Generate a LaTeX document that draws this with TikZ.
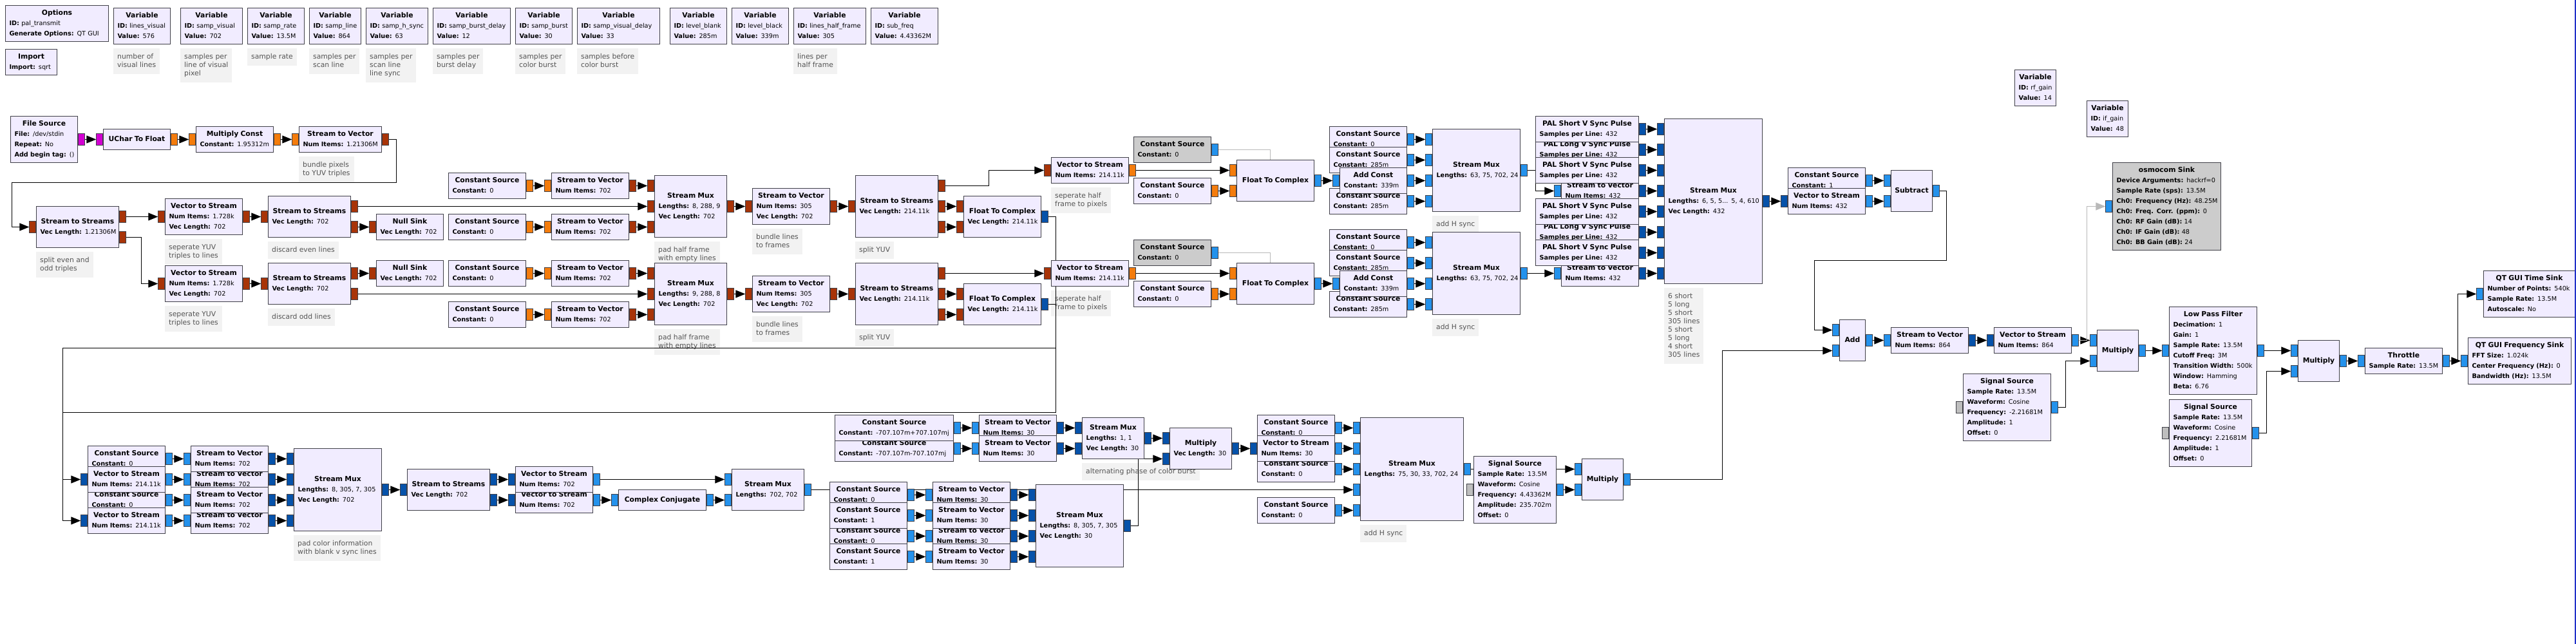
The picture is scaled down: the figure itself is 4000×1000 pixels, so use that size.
\documentclass[tikz,border=0pt]{standalone}
\usepackage{fontspec}
\setmainfont{DejaVu Sans}
\usetikzlibrary{arrows.meta}
\pgfdeclarelayer{background}
\pgfsetlayers{background,main}

\definecolor{blkfill}{RGB}{241,236,255}
\definecolor{offfill}{RGB}{204,204,204}
\definecolor{blkline}{RGB}{64,64,72}
\definecolor{pbyte}{RGB}{210,0,210}
\definecolor{pflt}{RGB}{244,124,12}
\definecolor{pfvec}{RGB}{168,52,8}
\definecolor{pcpx}{RGB}{36,146,236}
\definecolor{pcvec}{RGB}{6,82,170}
\definecolor{pmsg}{RGB}{190,190,190}
\definecolor{cmtfill}{RGB}{242,242,242}
\definecolor{cmttext}{RGB}{84,84,84}
\definecolor{offline}{RGB}{185,185,185}
\definecolor{edgeblue}{RGB}{32,48,200}

% block title and parameter lines
\newcommand{\btitle}[1]{\makebox[\hsize][c]{\fontsize{10.8}{16}\selectfont\bfseries #1}}
\newcommand{\bparam}[2]{\mbox{{\bfseries #1:} #2}}
% \grcblock[style]{name}{x,y}{width}{height}{text}
\newcommand{\grcblock}[6][]{%
	\pgfmathsetmacro{\btw}{#4-12}%
	\node[blk,#1,minimum width=#4pt,minimum height=#5pt,text width=\btw pt] (#2) at (#3) {\strut#6\strut};}
% ports: \inport{block}{count}{index}{colour}
\newcommand{\inport}[4]{%
	\pgfmathsetmacro{\pdy}{((#2-1)/2-#3)*32}%
	\node[port,fill=#4,anchor=east] (#1-i#3) at ([yshift=\pdy pt]#1.west) {};}
\newcommand{\outport}[4]{%
	\pgfmathsetmacro{\pdy}{((#2-1)/2-#3)*32}%
	\node[port,fill=#4,anchor=west] (#1-o#3) at ([yshift=\pdy pt]#1.east) {};}
% comment box: \grcnote{name}{x,y}{text}
\newcommand{\grcnote}[3]{\node[cmt] (#1) at (#2) {\strut#3\strut};}

\begin{document}
\begin{tikzpicture}[x=1pt,y=-1pt,
		blk/.style={draw=blkline,fill=blkfill,line width=1pt,anchor=north west,inner xsep=6pt,inner ysep=0pt,align=left,font=\fontsize{9.7}{16}\selectfont},
		blkoff/.style={fill=offfill},
		port/.style={draw=blkline,line width=0.7pt,minimum width=10pt,minimum height=18pt,inner sep=0pt},
		cmt/.style={fill=cmtfill,text=cmttext,anchor=north west,inner xsep=6pt,inner ysep=7pt,align=left,font=\fontsize{10.8}{13}\selectfont},
		conn/.style={line width=1pt,-{Triangle[length=15pt,width=12pt]}},
		connoff/.style={conn,draw=offline},
		offwire/.style={draw=offline,line width=1pt}]
	\useasboundingbox (0,0) rectangle (4000,1000);
	\begin{pgfonlayer}{background}
		\fill[white] (0,0) rectangle (4000,1000);
	\end{pgfonlayer}

	% options, import, variables
	\grcblock{opt}{8,8}{160}{56}{\btitle{Options}\\\bparam{ID}{pal\_transmit}\\\bparam{Generate Options}{QT GUI}}
	\grcblock{imp}{8,76}{80}{40}{\btitle{Import}\\\bparam{Import}{sqrt}}
	\grcblock{vlv}{176,12}{88}{56}{\btitle{Variable}\\\bparam{ID}{lines\_visual}\\\bparam{Value}{576}}
	\grcblock{vsv}{280,12}{96}{56}{\btitle{Variable}\\\bparam{ID}{samp\_visual}\\\bparam{Value}{702}}
	\grcblock{vsr}{384,12}{88}{56}{\btitle{Variable}\\\bparam{ID}{samp\_rate}\\\bparam{Value}{13.5M}}
	\grcblock{vsl}{480,12}{80}{56}{\btitle{Variable}\\\bparam{ID}{samp\_line}\\\bparam{Value}{864}}
	\grcblock{vhs}{568,12}{96}{56}{\btitle{Variable}\\\bparam{ID}{samp\_h\_sync}\\\bparam{Value}{63}}
	\grcblock{vbd}{672,12}{120}{56}{\btitle{Variable}\\\bparam{ID}{samp\_burst\_delay}\\\bparam{Value}{12}}
	\grcblock{vsb}{800,12}{88}{56}{\btitle{Variable}\\\bparam{ID}{samp\_burst}\\\bparam{Value}{30}}
	\grcblock{vvd}{896,12}{128}{56}{\btitle{Variable}\\\bparam{ID}{samp\_visual\_delay}\\\bparam{Value}{33}}
	\grcblock{vlb}{1040,12}{88}{56}{\btitle{Variable}\\\bparam{ID}{level\_blank}\\\bparam{Value}{285m}}
	\grcblock{vlk}{1136,12}{88}{56}{\btitle{Variable}\\\bparam{ID}{level\_black}\\\bparam{Value}{339m}}
	\grcblock{vhf}{1232,12}{112}{56}{\btitle{Variable}\\\bparam{ID}{lines\_half\_frame}\\\bparam{Value}{305}}
	\grcblock{vsf}{1352,12}{104}{56}{\btitle{Variable}\\\bparam{ID}{sub\_freq}\\\bparam{Value}{4.43362M}}
	\grcblock{vrf}{3128,108}{64}{56}{\btitle{Variable}\\\bparam{ID}{rf\_gain}\\\bparam{Value}{14}}
	\grcblock{vif}{3240,156}{64}{56}{\btitle{Variable}\\\bparam{ID}{if\_gain}\\\bparam{Value}{48}}

	% source chain
	\grcblock{fsrc}{16,180}{104}{72}{\btitle{File Source}\\\bparam{File}{/dev/stdin}\\\bparam{Repeat}{No}\\\bparam{Add begin tag}{()}}
	\outport{fsrc}{1}{0}{pbyte}
	\grcblock{u2f}{160,200}{104}{32}{\btitle{UChar To Float}}
	\inport{u2f}{1}{0}{pbyte} \outport{u2f}{1}{0}{pflt}
	\grcblock{mulk}{304,196}{120}{40}{\btitle{Multiply Const}\\\bparam{Constant}{1.95312m}}
	\inport{mulk}{1}{0}{pflt} \outport{mulk}{1}{0}{pflt}
	\grcblock{s2v0}{464,196}{128}{40}{\btitle{Stream to Vector}\\\bparam{Num Items}{1.21306M}}
	\inport{s2v0}{1}{0}{pflt} \outport{s2v0}{1}{0}{pfvec}

	% even / odd lines
	\grcblock{stsa}{56,320}{128}{64}{\btitle{Stream to Streams}\\\bparam{Vec Length}{1.21306M}}
	\inport{stsa}{1}{0}{pfvec} \outport{stsa}{2}{0}{pfvec} \outport{stsa}{2}{1}{pfvec}
	\grcblock{v2sa}{256,308}{120}{56}{\btitle{Vector to Stream}\\\bparam{Num Items}{1.728k}\\\bparam{Vec Length}{702}}
	\inport{v2sa}{1}{0}{pfvec} \outport{v2sa}{1}{0}{pfvec}
	\grcblock{v2sb}{256,412}{120}{56}{\btitle{Vector to Stream}\\\bparam{Num Items}{1.728k}\\\bparam{Vec Length}{702}}
	\inport{v2sb}{1}{0}{pfvec} \outport{v2sb}{1}{0}{pfvec}
	\grcblock{stsb}{416,304}{128}{64}{\btitle{Stream to Streams}\\\bparam{Vec Length}{702}}
	\inport{stsb}{1}{0}{pfvec} \outport{stsb}{2}{0}{pfvec} \outport{stsb}{2}{1}{pfvec}
	\grcblock{stsc}{416,408}{128}{64}{\btitle{Stream to Streams}\\\bparam{Vec Length}{702}}
	\inport{stsc}{1}{0}{pfvec} \outport{stsc}{2}{0}{pfvec} \outport{stsc}{2}{1}{pfvec}
	\grcblock{nulla}{584,332}{104}{40}{\btitle{Null Sink}\\\bparam{Vec Length}{702}}
	\inport{nulla}{1}{0}{pfvec}
	\grcblock{nullb}{584,404}{104}{40}{\btitle{Null Sink}\\\bparam{Vec Length}{702}}
	\inport{nullb}{1}{0}{pfvec}

	% pad half frames
	\grcblock{csa}{696,268}{120}{40}{\btitle{Constant Source}\\\bparam{Constant}{0}}
	\outport{csa}{1}{0}{pflt}
	\grcblock{s2va}{856,268}{120}{40}{\btitle{Stream to Vector}\\\bparam{Num Items}{702}}
	\inport{s2va}{1}{0}{pflt} \outport{s2va}{1}{0}{pfvec}
	\grcblock{csb}{696,332}{120}{40}{\btitle{Constant Source}\\\bparam{Constant}{0}}
	\outport{csb}{1}{0}{pflt}
	\grcblock{s2vb}{856,332}{120}{40}{\btitle{Stream to Vector}\\\bparam{Num Items}{702}}
	\inport{s2vb}{1}{0}{pflt} \outport{s2vb}{1}{0}{pfvec}
	\grcblock{csc}{696,404}{120}{40}{\btitle{Constant Source}\\\bparam{Constant}{0}}
	\outport{csc}{1}{0}{pflt}
	\grcblock{s2vc}{856,404}{120}{40}{\btitle{Stream to Vector}\\\bparam{Num Items}{702}}
	\inport{s2vc}{1}{0}{pflt} \outport{s2vc}{1}{0}{pfvec}
	\grcblock{csd}{696,468}{120}{40}{\btitle{Constant Source}\\\bparam{Constant}{0}}
	\outport{csd}{1}{0}{pflt}
	\grcblock{s2vd}{856,468}{120}{40}{\btitle{Stream to Vector}\\\bparam{Num Items}{702}}
	\inport{s2vd}{1}{0}{pflt} \outport{s2vd}{1}{0}{pfvec}
	\grcblock{muxa}{1016,272}{112}{96}{\btitle{Stream Mux}\\\bparam{Lengths}{8, 288, 9}\\\bparam{Vec Length}{702}}
	\inport{muxa}{3}{0}{pfvec} \inport{muxa}{3}{1}{pfvec} \inport{muxa}{3}{2}{pfvec} \outport{muxa}{1}{0}{pfvec}
	\grcblock{muxb}{1016,408}{112}{96}{\btitle{Stream Mux}\\\bparam{Lengths}{9, 288, 8}\\\bparam{Vec Length}{702}}
	\inport{muxb}{3}{0}{pfvec} \inport{muxb}{3}{1}{pfvec} \inport{muxb}{3}{2}{pfvec} \outport{muxb}{1}{0}{pfvec}
	\grcblock{s2ve}{1168,292}{120}{56}{\btitle{Stream to Vector}\\\bparam{Num Items}{305}\\\bparam{Vec Length}{702}}
	\inport{s2ve}{1}{0}{pfvec} \outport{s2ve}{1}{0}{pfvec}
	\grcblock{s2vf}{1168,428}{120}{56}{\btitle{Stream to Vector}\\\bparam{Num Items}{305}\\\bparam{Vec Length}{702}}
	\inport{s2vf}{1}{0}{pfvec} \outport{s2vf}{1}{0}{pfvec}

	% split YUV
	\grcblock{stsd}{1328,272}{128}{96}{\btitle{Stream to Streams}\\\bparam{Vec Length}{214.11k}}
	\inport{stsd}{1}{0}{pfvec} \outport{stsd}{3}{0}{pfvec} \outport{stsd}{3}{1}{pfvec} \outport{stsd}{3}{2}{pfvec}
	\grcblock{stse}{1328,408}{128}{96}{\btitle{Stream to Streams}\\\bparam{Vec Length}{214.11k}}
	\inport{stse}{1}{0}{pfvec} \outport{stse}{3}{0}{pfvec} \outport{stse}{3}{1}{pfvec} \outport{stse}{3}{2}{pfvec}
	\grcblock{f2ca}{1496,304}{120}{64}{\btitle{Float To Complex}\\\bparam{Vec Length}{214.11k}}
	\inport{f2ca}{2}{0}{pfvec} \inport{f2ca}{2}{1}{pfvec} \outport{f2ca}{1}{0}{pcvec}
	\grcblock{f2cb}{1496,440}{120}{64}{\btitle{Float To Complex}\\\bparam{Vec Length}{214.11k}}
	\inport{f2cb}{2}{0}{pfvec} \inport{f2cb}{2}{1}{pfvec} \outport{f2cb}{1}{0}{pcvec}
	\grcblock{v2sc}{1632,244}{120}{40}{\btitle{Vector to Stream}\\\bparam{Num Items}{214.11k}}
	\inport{v2sc}{1}{0}{pfvec} \outport{v2sc}{1}{0}{pflt}
	\grcblock{v2sd}{1632,404}{120}{40}{\btitle{Vector to Stream}\\\bparam{Num Items}{214.11k}}
	\inport{v2sd}{1}{0}{pfvec} \outport{v2sd}{1}{0}{pflt}
	\grcblock[blkoff]{cso1}{1760,212}{120}{40}{\btitle{Constant Source}\\\bparam{Constant}{0}}
	\outport{cso1}{1}{0}{pcpx}
	\grcblock{cse}{1760,276}{120}{40}{\btitle{Constant Source}\\\bparam{Constant}{0}}
	\outport{cse}{1}{0}{pflt}
	\grcblock[blkoff]{cso2}{1760,372}{120}{40}{\btitle{Constant Source}\\\bparam{Constant}{0}}
	\outport{cso2}{1}{0}{pcpx}
	\grcblock{csf}{1760,436}{120}{40}{\btitle{Constant Source}\\\bparam{Constant}{0}}
	\outport{csf}{1}{0}{pflt}
	\grcblock{f2cc}{1920,248}{120}{64}{\btitle{Float To Complex}}
	\inport{f2cc}{2}{0}{pflt} \inport{f2cc}{2}{1}{pflt} \outport{f2cc}{1}{0}{pcpx}
	\grcblock{f2cd}{1920,408}{120}{64}{\btitle{Float To Complex}}
	\inport{f2cd}{2}{0}{pflt} \inport{f2cd}{2}{1}{pflt} \outport{f2cd}{1}{0}{pcpx}

	% add H sync
	\grcblock{csg}{2064,196}{120}{40}{\btitle{Constant Source}\\\bparam{Constant}{0}}
	\outport{csg}{1}{0}{pcpx}
	\grcblock{csh}{2064,228}{120}{40}{\btitle{Constant Source}\\\bparam{Constant}{285m}}
	\outport{csh}{1}{0}{pcpx}
	\grcblock{csi}{2064,292}{120}{40}{\btitle{Constant Source}\\\bparam{Constant}{285m}}
	\outport{csi}{1}{0}{pcpx}
	\grcblock{adda}{2080,260}{104}{40}{\btitle{Add Const}\\\bparam{Constant}{339m}}
	\inport{adda}{1}{0}{pcpx} \outport{adda}{1}{0}{pcpx}
	\grcblock{muxc}{2224,200}{136}{128}{\btitle{Stream Mux}\\\bparam{Lengths}{63, 75, 702, 24}}
	\inport{muxc}{4}{0}{pcpx} \inport{muxc}{4}{1}{pcpx} \inport{muxc}{4}{2}{pcpx} \inport{muxc}{4}{3}{pcpx} \outport{muxc}{1}{0}{pcpx}
	\grcblock{csj}{2064,356}{120}{40}{\btitle{Constant Source}\\\bparam{Constant}{0}}
	\outport{csj}{1}{0}{pcpx}
	\grcblock{csk}{2064,388}{120}{40}{\btitle{Constant Source}\\\bparam{Constant}{285m}}
	\outport{csk}{1}{0}{pcpx}
	\grcblock{csl}{2064,452}{120}{40}{\btitle{Constant Source}\\\bparam{Constant}{285m}}
	\outport{csl}{1}{0}{pcpx}
	\grcblock{addb}{2080,420}{104}{40}{\btitle{Add Const}\\\bparam{Constant}{339m}}
	\inport{addb}{1}{0}{pcpx} \outport{addb}{1}{0}{pcpx}
	\grcblock{muxd}{2224,360}{136}{128}{\btitle{Stream Mux}\\\bparam{Lengths}{63, 75, 702, 24}}
	\inport{muxd}{4}{0}{pcpx} \inport{muxd}{4}{1}{pcpx} \inport{muxd}{4}{2}{pcpx} \inport{muxd}{4}{3}{pcpx} \outport{muxd}{1}{0}{pcpx}

	% V sync pulses
	\grcblock{palb}{2384,212}{160}{40}{\btitle{PAL Long V Sync Pulse}\\\bparam{Samples per Line}{432}}
	\outport{palb}{1}{0}{pcvec}
	\grcblock{pale}{2384,340}{160}{40}{\btitle{PAL Long V Sync Pulse}\\\bparam{Samples per Line}{432}}
	\outport{pale}{1}{0}{pcvec}
	\grcblock{s2vg}{2424,276}{120}{40}{\btitle{Stream to Vector}\\\bparam{Num Items}{432}}
	\inport{s2vg}{1}{0}{pcpx} \outport{s2vg}{1}{0}{pcvec}
	\grcblock{s2vh}{2424,404}{120}{40}{\btitle{Stream to Vector}\\\bparam{Num Items}{432}}
	\inport{s2vh}{1}{0}{pcpx} \outport{s2vh}{1}{0}{pcvec}
	\grcblock{pala}{2384,180}{160}{40}{\btitle{PAL Short V Sync Pulse}\\\bparam{Samples per Line}{432}}
	\outport{pala}{1}{0}{pcvec}
	\grcblock{palc}{2384,244}{160}{40}{\btitle{PAL Short V Sync Pulse}\\\bparam{Samples per Line}{432}}
	\outport{palc}{1}{0}{pcvec}
	\grcblock{pald}{2384,308}{160}{40}{\btitle{PAL Short V Sync Pulse}\\\bparam{Samples per Line}{432}}
	\outport{pald}{1}{0}{pcvec}
	\grcblock{palf}{2384,372}{160}{40}{\btitle{PAL Short V Sync Pulse}\\\bparam{Samples per Line}{432}}
	\outport{palf}{1}{0}{pcvec}
	\grcblock{muxe}{2584,184}{152}{256}{\btitle{Stream Mux}\\\bparam{Lengths}{6, 5, 5... 5, 4, 610}\\\bparam{Vec Length}{432}}
	\foreach \k in {0,...,7} {\inport{muxe}{8}{\k}{pcvec}}
	\outport{muxe}{1}{0}{pcvec}
	\grcblock{csm}{2776,260}{120}{40}{\btitle{Constant Source}\\\bparam{Constant}{1}}
	\outport{csm}{1}{0}{pcpx}
	\grcblock{v2se}{2776,292}{120}{40}{\btitle{Vector to Stream}\\\bparam{Num Items}{432}}
	\inport{v2se}{1}{0}{pcvec} \outport{v2se}{1}{0}{pcpx}
	\grcblock{sub}{2936,264}{64}{64}{\btitle{Subtract}}
	\inport{sub}{2}{0}{pcpx} \inport{sub}{2}{1}{pcpx} \outport{sub}{1}{0}{pcpx}

	% output chain
	\grcblock{add}{2856,496}{40}{64}{\btitle{Add}}
	\inport{add}{2}{0}{pcpx} \inport{add}{2}{1}{pcpx} \outport{add}{1}{0}{pcpx}
	\grcblock{s2vi}{2936,508}{120}{40}{\btitle{Stream to Vector}\\\bparam{Num Items}{864}}
	\inport{s2vi}{1}{0}{pcpx} \outport{s2vi}{1}{0}{pcvec}
	\grcblock{v2sf}{3096,508}{120}{40}{\btitle{Vector to Stream}\\\bparam{Num Items}{864}}
	\inport{v2sf}{1}{0}{pcvec} \outport{v2sf}{1}{0}{pcpx}
	\grcblock{mula}{3256,512}{64}{64}{\btitle{Multiply}}
	\inport{mula}{2}{0}{pcpx} \inport{mula}{2}{1}{pcpx} \outport{mula}{1}{0}{pcpx}
	\grcblock{siga}{3048,580}{136}{104}{\btitle{Signal Source}\\\bparam{Sample Rate}{13.5M}\\\bparam{Waveform}{Cosine}\\\bparam{Frequency}{-2.21681M}\\\bparam{Amplitude}{1}\\\bparam{Offset}{0}}
	\inport{siga}{1}{0}{pmsg} \outport{siga}{1}{0}{pcpx}
	\grcblock[blkoff]{osmo}{3280,252}{168}{136}{\btitle{osmocom Sink}\\\bparam{Device Arguments}{hackrf=0}\\\bparam{Sample Rate (sps)}{13.5M}\\\bparam{Ch0: Frequency (Hz)}{48.25M}\\\bparam{Ch0: Freq. Corr. (ppm)}{0}\\\bparam{Ch0: RF Gain (dB)}{14}\\\bparam{Ch0: IF Gain (dB)}{48}\\\bparam{Ch0: BB Gain (dB)}{24}}
	\inport{osmo}{1}{0}{pcpx}
	\grcblock{lpf}{3368,476}{136}{136}{\btitle{Low Pass Filter}\\\bparam{Decimation}{1}\\\bparam{Gain}{1}\\\bparam{Sample Rate}{13.5M}\\\bparam{Cutoff Freq}{3M}\\\bparam{Transition Width}{500k}\\\bparam{Window}{Hamming}\\\bparam{Beta}{6.76}}
	\inport{lpf}{1}{0}{pcpx} \outport{lpf}{1}{0}{pcpx}
	\grcblock{sigb}{3368,620}{128}{104}{\btitle{Signal Source}\\\bparam{Sample Rate}{13.5M}\\\bparam{Waveform}{Cosine}\\\bparam{Frequency}{2.21681M}\\\bparam{Amplitude}{1}\\\bparam{Offset}{0}}
	\inport{sigb}{1}{0}{pmsg} \outport{sigb}{1}{0}{pcpx}
	\grcblock{mulb}{3568,528}{64}{64}{\btitle{Multiply}}
	\inport{mulb}{2}{0}{pcpx} \inport{mulb}{2}{1}{pcpx} \outport{mulb}{1}{0}{pcpx}
	\grcblock{thr}{3672,540}{120}{40}{\btitle{Throttle}\\\bparam{Sample Rate}{13.5M}}
	\inport{thr}{1}{0}{pcpx} \outport{thr}{1}{0}{pcpx}
	\grcblock{tsink}{3856,420}{142}{72}{\btitle{QT GUI Time Sink}\\\bparam{Number of Points}{540k}\\\bparam{Sample Rate}{13.5M}\\\bparam{Autoscale}{No}}
	\inport{tsink}{1}{0}{pcpx}
	\grcblock{fsink}{3832,524}{160}{72}{\btitle{QT GUI Frequency Sink}\\\bparam{FFT Size}{1.024k}\\\bparam{Center Frequency (Hz)}{0}\\\bparam{Bandwidth (Hz)}{13.5M}}
	\inport{fsink}{1}{0}{pcpx}

	% colour information
	\grcblock{csn}{136,692}{120}{40}{\btitle{Constant Source}\\\bparam{Constant}{0}}
	\outport{csn}{1}{0}{pcpx}
	\grcblock{cso}{136,756}{120}{40}{\btitle{Constant Source}\\\bparam{Constant}{0}}
	\outport{cso}{1}{0}{pcpx}
	\grcblock{v2sg}{136,724}{120}{40}{\btitle{Vector to Stream}\\\bparam{Num Items}{214.11k}}
	\inport{v2sg}{1}{0}{pcvec} \outport{v2sg}{1}{0}{pcpx}
	\grcblock{v2sh}{136,788}{120}{40}{\btitle{Vector to Stream}\\\bparam{Num Items}{214.11k}}
	\inport{v2sh}{1}{0}{pcvec} \outport{v2sh}{1}{0}{pcpx}
	\grcblock{s2vk}{296,724}{120}{40}{\btitle{Stream to Vector}\\\bparam{Num Items}{702}}
	\inport{s2vk}{1}{0}{pcpx} \outport{s2vk}{1}{0}{pcvec}
	\grcblock{s2vm}{296,788}{120}{40}{\btitle{Stream to Vector}\\\bparam{Num Items}{702}}
	\inport{s2vm}{1}{0}{pcpx} \outport{s2vm}{1}{0}{pcvec}
	\grcblock{s2vj}{296,692}{120}{40}{\btitle{Stream to Vector}\\\bparam{Num Items}{702}}
	\inport{s2vj}{1}{0}{pcpx} \outport{s2vj}{1}{0}{pcvec}
	\grcblock{s2vl}{296,756}{120}{40}{\btitle{Stream to Vector}\\\bparam{Num Items}{702}}
	\inport{s2vl}{1}{0}{pcpx} \outport{s2vl}{1}{0}{pcvec}
	\grcblock{muxf}{456,696}{136}{128}{\btitle{Stream Mux}\\\bparam{Lengths}{8, 305, 7, 305}\\\bparam{Vec Length}{702}}
	\foreach \k in {0,...,3} {\inport{muxf}{4}{\k}{pcvec}}
	\outport{muxf}{1}{0}{pcvec}
	\grcblock{stsf}{632,728}{128}{64}{\btitle{Stream to Streams}\\\bparam{Vec Length}{702}}
	\inport{stsf}{1}{0}{pcvec} \outport{stsf}{2}{0}{pcvec} \outport{stsf}{2}{1}{pcvec}
	\grcblock{v2sj}{800,756}{120}{40}{\btitle{Vector to Stream}\\\bparam{Num Items}{702}}
	\inport{v2sj}{1}{0}{pcvec} \outport{v2sj}{1}{0}{pcpx}
	\grcblock{v2si}{800,724}{120}{40}{\btitle{Vector to Stream}\\\bparam{Num Items}{702}}
	\inport{v2si}{1}{0}{pcvec} \outport{v2si}{1}{0}{pcpx}
	\grcblock{conj}{960,760}{136}{32}{\btitle{Complex Conjugate}}
	\inport{conj}{1}{0}{pcpx} \outport{conj}{1}{0}{pcpx}
	\grcblock{muxg}{1136,728}{112}{64}{\btitle{Stream Mux}\\\bparam{Lengths}{702, 702}}
	\inport{muxg}{2}{0}{pcpx} \inport{muxg}{2}{1}{pcpx} \outport{muxg}{1}{0}{pcpx}

	% colour burst
	\grcblock{csq}{1296,676}{184}{40}{\btitle{Constant Source}\\\bparam{Constant}{-707.107m-707.107mj}}
	\outport{csq}{1}{0}{pcpx}
	\grcblock{csp}{1296,644}{184}{40}{\btitle{Constant Source}\\\bparam{Constant}{-707.107m+707.107mj}}
	\outport{csp}{1}{0}{pcpx}
	\grcblock{s2vn}{1520,644}{120}{40}{\btitle{Stream to Vector}\\\bparam{Num Items}{30}}
	\inport{s2vn}{1}{0}{pcpx} \outport{s2vn}{1}{0}{pcvec}
	\grcblock{s2vo}{1520,676}{120}{40}{\btitle{Stream to Vector}\\\bparam{Num Items}{30}}
	\inport{s2vo}{1}{0}{pcpx} \outport{s2vo}{1}{0}{pcvec}
	\grcblock{muxh}{1680,648}{96}{64}{\btitle{Stream Mux}\\\bparam{Lengths}{1, 1}\\\bparam{Vec Length}{30}}
	\inport{muxh}{2}{0}{pcvec} \inport{muxh}{2}{1}{pcvec} \outport{muxh}{1}{0}{pcvec}
	\grcblock{mulc}{1816,664}{96}{64}{\btitle{Multiply}\\\bparam{Vec Length}{30}}
	\inport{mulc}{2}{0}{pcvec} \inport{mulc}{2}{1}{pcvec} \outport{mulc}{1}{0}{pcvec}
	\grcblock{csr}{1288,748}{120}{40}{\btitle{Constant Source}\\\bparam{Constant}{0}}
	\outport{csr}{1}{0}{pcpx}
	\grcblock{cst}{1288,812}{120}{40}{\btitle{Constant Source}\\\bparam{Constant}{0}}
	\outport{cst}{1}{0}{pcpx}
	\grcblock{css}{1288,780}{120}{40}{\btitle{Constant Source}\\\bparam{Constant}{1}}
	\outport{css}{1}{0}{pcpx}
	\grcblock{csu}{1288,844}{120}{40}{\btitle{Constant Source}\\\bparam{Constant}{1}}
	\outport{csu}{1}{0}{pcpx}
	\grcblock{s2vq}{1448,748}{120}{40}{\btitle{Stream to Vector}\\\bparam{Num Items}{30}}
	\inport{s2vq}{1}{0}{pcpx} \outport{s2vq}{1}{0}{pcvec}
	\grcblock{s2vs}{1448,812}{120}{40}{\btitle{Stream to Vector}\\\bparam{Num Items}{30}}
	\inport{s2vs}{1}{0}{pcpx} \outport{s2vs}{1}{0}{pcvec}
	\grcblock{s2vr}{1448,780}{120}{40}{\btitle{Stream to Vector}\\\bparam{Num Items}{30}}
	\inport{s2vr}{1}{0}{pcpx} \outport{s2vr}{1}{0}{pcvec}
	\grcblock{s2vt}{1448,844}{120}{40}{\btitle{Stream to Vector}\\\bparam{Num Items}{30}}
	\inport{s2vt}{1}{0}{pcpx} \outport{s2vt}{1}{0}{pcvec}
	\grcblock{muxi}{1608,752}{136}{128}{\btitle{Stream Mux}\\\bparam{Lengths}{8, 305, 7, 305}\\\bparam{Vec Length}{30}}
	\foreach \k in {0,...,3} {\inport{muxi}{4}{\k}{pcvec}}
	\outport{muxi}{1}{0}{pcvec}

	% line assembly and colour carrier
	\grcblock{csv}{1952,644}{120}{40}{\btitle{Constant Source}\\\bparam{Constant}{0}}
	\outport{csv}{1}{0}{pcpx}
	\grcblock{csw}{1952,708}{120}{40}{\btitle{Constant Source}\\\bparam{Constant}{0}}
	\outport{csw}{1}{0}{pcpx}
	\grcblock{v2sk}{1952,676}{120}{40}{\btitle{Vector to Stream}\\\bparam{Num Items}{30}}
	\inport{v2sk}{1}{0}{pcvec} \outport{v2sk}{1}{0}{pcpx}
	\grcblock{csx}{1952,772}{120}{40}{\btitle{Constant Source}\\\bparam{Constant}{0}}
	\outport{csx}{1}{0}{pcpx}
	\grcblock{muxj}{2112,648}{160}{160}{\btitle{Stream Mux}\\\bparam{Lengths}{75, 30, 33, 702, 24}}
	\foreach \k in {0,...,4} {\inport{muxj}{5}{\k}{pcpx}}
	\outport{muxj}{1}{0}{pcpx}
	\grcblock{sigc}{2288,708}{128}{104}{\btitle{Signal Source}\\\bparam{Sample Rate}{13.5M}\\\bparam{Waveform}{Cosine}\\\bparam{Frequency}{4.43362M}\\\bparam{Amplitude}{235.702m}\\\bparam{Offset}{0}}
	\inport{sigc}{1}{0}{pmsg} \outport{sigc}{1}{0}{pcpx}
	\grcblock{muld}{2456,712}{64}{64}{\btitle{Multiply}}
	\inport{muld}{2}{0}{pcpx} \inport{muld}{2}{1}{pcpx} \outport{muld}{1}{0}{pcpx}

	\coordinate (og1) at (1972,248);
	\coordinate (og2) at (1972,408);
	\draw[edgeblue,line width=1.5pt] (3999,0) -- (3999,1000);

	\begin{pgfonlayer}{background}
		% comments
		\grcnote{nlv}{176,75}{number of\\visual lines}
		\grcnote{nsv}{280,75}{samples per\\line of visual\\pixel}
		\grcnote{nsr}{384,75}{sample rate}
		\grcnote{nsl}{480,75}{samples per\\scan line}
		\grcnote{nhs}{568,75}{samples per\\scan line\\line sync}
		\grcnote{nbd}{672,75}{samples per\\burst delay}
		\grcnote{nsb}{800,75}{samples per\\color burst}
		\grcnote{nvd}{896,75}{samples before\\color burst}
		\grcnote{nhf}{1232,75}{lines per\\half frame}
		\grcnote{nbp}{464,243}{bundle pixels\\to YUV triples}
		\grcnote{nse}{56,391}{split even and\\odd triples}
		\grcnote{nyt1}{256,371}{seperate YUV\\triples to lines}
		\grcnote{nyt2}{256,475}{seperate YUV\\triples to lines}
		\grcnote{nde}{416,375}{discard even lines}
		\grcnote{ndo}{416,479}{discard odd lines}
		\grcnote{nph1}{1016,375}{pad half frame\\with empty lines}
		\grcnote{nph2}{1016,511}{pad half frame\\with empty lines}
		\grcnote{nbl1}{1168,355}{bundle lines\\to frames}
		\grcnote{nbl2}{1168,491}{bundle lines\\to frames}
		\grcnote{nsy1}{1328,375}{split YUV}
		\grcnote{nsy2}{1328,511}{split YUV}
		\grcnote{nsh1}{1632,291}{seperate half\\frame to pixels}
		\grcnote{nsh2}{1632,451}{seperate half\\frame to pixels}
		\grcnote{nah1}{2224,335}{add H sync}
		\grcnote{nah2}{2224,495}{add H sync}
		\grcnote{nvs}{2584,447}{6 short\\5 long\\5 short\\305 lines\\5 short\\5 long\\4 short\\305 lines}
		\grcnote{npc}{456,831}{pad color information\\with blank v sync lines}
		\grcnote{nap}{1680,719}{alternating phase of color burst}
		\grcnote{nah3}{2112,815}{add H sync}

		% connections
		\draw[conn] (fsrc-o0.east) -- (u2f-i0.west);
		\draw[conn] (u2f-o0.east) -- (mulk-i0.west);
		\draw[conn] (mulk-o0.east) -- (s2v0-i0.west);
		\draw[conn] (s2v0-o0.east) -- ++(12,0) |- (18,284) |- (stsa-i0.west);
		\draw[conn] (stsa-o0.east) -- (v2sa-i0.west);
		\draw[conn] (stsa-o1.east) -- ++(24,0) |- (v2sb-i0.west);
		\draw[conn] (v2sa-o0.east) -- (stsb-i0.west);
		\draw[conn] (v2sb-o0.east) -- (stsc-i0.west);
		\draw[conn] (stsb-o0.east) -- (muxa-i1.west);
		\draw[conn] (stsb-o1.east) -- (nulla-i0.west);
		\draw[conn] (stsc-o0.east) -- (nullb-i0.west);
		\draw[conn] (stsc-o1.east) -- (muxb-i1.west);
		\draw[conn] (csa-o0.east) -- (s2va-i0.west);
		\draw[conn] (s2va-o0.east) -- (muxa-i0.west);
		\draw[conn] (csb-o0.east) -- (s2vb-i0.west);
		\draw[conn] (s2vb-o0.east) -- (muxa-i2.west);
		\draw[conn] (csc-o0.east) -- (s2vc-i0.west);
		\draw[conn] (s2vc-o0.east) -- (muxb-i0.west);
		\draw[conn] (csd-o0.east) -- (s2vd-i0.west);
		\draw[conn] (s2vd-o0.east) -- (muxb-i2.west);
		\draw[conn] (muxa-o0.east) -- (s2ve-i0.west);
		\draw[conn] (s2ve-o0.east) -- (stsd-i0.west);
		\draw[conn] (muxb-o0.east) -- (s2vf-i0.west);
		\draw[conn] (s2vf-o0.east) -- (stse-i0.west);
		\draw[conn] (stsd-o0.east) -- ++(68,0) |- (v2sc-i0.west);
		\draw[conn] (stsd-o1.east) -- (f2ca-i0.west);
		\draw[conn] (stsd-o2.east) -- (f2ca-i1.west);
		\draw[conn] (stse-o0.east) -- (v2sd-i0.west);
		\draw[conn] (stse-o1.east) -- (f2cb-i0.west);
		\draw[conn] (stse-o2.east) -- (f2cb-i1.west);
		\draw[conn] (f2ca-o0.east) -- ++(12,0) |- (97,540) |- (v2sg-i0.west);
		\draw[conn] (f2cb-o0.east) -- ++(12,0) |- (97,640) |- (v2sh-i0.west);
		\draw[conn] (v2sc-o0.east) -- (f2cc-i0.west);
		\draw[conn] (cse-o0.east) -- (f2cc-i1.west);
		\draw[conn] (v2sd-o0.east) -- (f2cd-i0.west);
		\draw[conn] (csf-o0.east) -- (f2cd-i1.west);
		\draw[offwire] (cso1-o0.east) -| (og1);
		\draw[offwire] (cso2-o0.east) -| (og2);
		\draw[conn] (f2cc-o0.east) -- (adda-i0.west);
		\draw[conn] (csg-o0.east) -- (muxc-i0.west);
		\draw[conn] (csh-o0.east) -- (muxc-i1.west);
		\draw[conn] (adda-o0.east) -- (muxc-i2.west);
		\draw[conn] (csi-o0.east) -- (muxc-i3.west);
		\draw[conn] (f2cd-o0.east) -- (addb-i0.west);
		\draw[conn] (csj-o0.east) -- (muxd-i0.west);
		\draw[conn] (csk-o0.east) -- (muxd-i1.west);
		\draw[conn] (addb-o0.east) -- (muxd-i2.west);
		\draw[conn] (csl-o0.east) -- (muxd-i3.west);
		\draw[conn] (muxc-o0.east) -- ++(13,0) |- (s2vg-i0.west);
		\draw[conn] (muxd-o0.east) -- (s2vh-i0.west);
		\draw[conn] (pala-o0.east) -- (muxe-i0.west);
		\draw[conn] (palb-o0.east) -- (muxe-i1.west);
		\draw[conn] (palc-o0.east) -- (muxe-i2.west);
		\draw[conn] (s2vg-o0.east) -- (muxe-i3.west);
		\draw[conn] (pald-o0.east) -- (muxe-i4.west);
		\draw[conn] (pale-o0.east) -- (muxe-i5.west);
		\draw[conn] (palf-o0.east) -- (muxe-i6.west);
		\draw[conn] (s2vh-o0.east) -- (muxe-i7.west);
		\draw[conn] (muxe-o0.east) -- (v2se-i0.west);
		\draw[conn] (csm-o0.east) -- (sub-i0.west);
		\draw[conn] (v2se-o0.east) -- (sub-i1.west);
		\draw[conn] (sub-o0.east) -- ++(11,0) |- (2817,404) |- (add-i0.west);
		\draw[conn] (muld-o0.east) -- ++(143,0) |- (add-i1.west);
		\draw[conn] (add-o0.east) -- (s2vi-i0.west);
		\draw[conn] (s2vi-o0.east) -- (v2sf-i0.west);
		\draw[conn] (v2sf-o0.east) -- (mula-i0.west);
		\draw[connoff] (v2sf-o0.east) -- ++(13,0) |- (osmo-i0.west);
		\draw[conn] (siga-o0.east) -- ++(12,0) |- (mula-i1.west);
		\draw[conn] (mula-o0.east) -- (lpf-i0.west);
		\draw[conn] (lpf-o0.east) -- (mulb-i0.west);
		\draw[conn] (sigb-o0.east) -- ++(12,0) |- (mulb-i1.west);
		\draw[conn] (mulb-o0.east) -- (thr-i0.west);
		\draw[conn] (thr-o0.east) -- (fsink-i0.west);
		\draw[conn] (thr-o0.east) -- ++(13,0) |- (tsink-i0.west);
		\draw[conn] (csn-o0.east) -- (s2vj-i0.west);
		\draw[conn] (v2sg-o0.east) -- (s2vk-i0.west);
		\draw[conn] (cso-o0.east) -- (s2vl-i0.west);
		\draw[conn] (v2sh-o0.east) -- (s2vm-i0.west);
		\draw[conn] (s2vj-o0.east) -- (muxf-i0.west);
		\draw[conn] (s2vk-o0.east) -- (muxf-i1.west);
		\draw[conn] (s2vl-o0.east) -- (muxf-i2.west);
		\draw[conn] (s2vm-o0.east) -- (muxf-i3.west);
		\draw[conn] (muxf-o0.east) -- (stsf-i0.west);
		\draw[conn] (stsf-o0.east) -- (v2si-i0.west);
		\draw[conn] (stsf-o1.east) -- (v2sj-i0.west);
		\draw[conn] (v2si-o0.east) -- (muxg-i0.west);
		\draw[conn] (v2sj-o0.east) -- (conj-i0.west);
		\draw[conn] (conj-o0.east) -- (muxg-i1.west);
		\draw[conn] (muxg-o0.east) -- (muxj-i3.west);
		\draw[conn] (csp-o0.east) -- (s2vn-i0.west);
		\draw[conn] (csq-o0.east) -- (s2vo-i0.west);
		\draw[conn] (s2vn-o0.east) -- (muxh-i0.west);
		\draw[conn] (s2vo-o0.east) -- (muxh-i1.west);
		\draw[conn] (muxh-o0.east) -- (mulc-i0.west);
		\draw[conn] (muxi-o0.east) -- ++(12,0) |- (mulc-i1.west);
		\draw[conn] (mulc-o0.east) -- (v2sk-i0.west);
		\draw[conn] (csr-o0.east) -- (s2vq-i0.west);
		\draw[conn] (css-o0.east) -- (s2vr-i0.west);
		\draw[conn] (cst-o0.east) -- (s2vs-i0.west);
		\draw[conn] (csu-o0.east) -- (s2vt-i0.west);
		\draw[conn] (s2vq-o0.east) -- (muxi-i0.west);
		\draw[conn] (s2vr-o0.east) -- (muxi-i1.west);
		\draw[conn] (s2vs-o0.east) -- (muxi-i2.west);
		\draw[conn] (s2vt-o0.east) -- (muxi-i3.west);
		\draw[conn] (csv-o0.east) -- (muxj-i0.west);
		\draw[conn] (v2sk-o0.east) -- (muxj-i1.west);
		\draw[conn] (csw-o0.east) -- (muxj-i2.west);
		\draw[conn] (csx-o0.east) -- (muxj-i4.west);
		\draw[conn] (muxj-o0.east) -- (muld-i0.west);
		\draw[conn] (sigc-o0.east) -- (muld-i1.west);
	\end{pgfonlayer}
\end{tikzpicture}
\end{document}
